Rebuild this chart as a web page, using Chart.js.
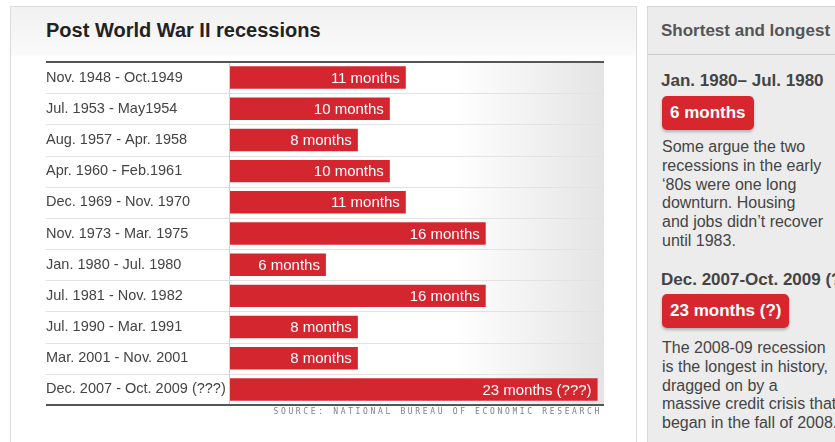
<!DOCTYPE html>
<html>
<head>
<meta charset="utf-8">
<script src="https://cdn.jsdelivr.net/npm/chart.js@4/dist/chart.umd.min.js"></script>
<style>
    body { margin: 0; width: 835px; height: 442px; overflow: hidden; background: #fff; font-family: "Liberation Sans", Arial, sans-serif; position: relative; }
    #leftPanel { position: absolute; left: 10px; top: 6px; width: 625px; height: 450px; border: 1px solid #dcdcdc; background: linear-gradient(to bottom, #f1f1f1 0, #fafafa 48px, #fff 49px); }
    #title { position: absolute; left: 35px; top: 12px; font-size: 20px; font-weight: bold; color: #222; }
    #chartBox { position: absolute; left: 46px; top: 52px; width: 560px; height: 363px; }
    #source { position: absolute; left: 230px; width: 372px; top: 407px; text-align: right; font-size: 8px; letter-spacing: 2.65px; color: #808080; font-family: "DejaVu Sans Mono", monospace; }
    #rightPanel { position: absolute; left: 647px; top: 6px; width: 220px; height: 450px; border: 1px solid #d6d6d6; background: #ececec; color: #444; }
    #rightHead { height: 48px; border-bottom: 1px solid #c8c8c8; font-size: 17px; font-weight: bold; color: #555; padding: 14px 0 0 13px; box-sizing: border-box; }
    .range { position: absolute; left: 13px; font-size: 17px; font-weight: bold; color: #444; white-space: nowrap; }
    .badge { position: absolute; left: 14px; background: #d8262f; color: #fff; font-weight: bold; font-size: 17px; border-radius: 5px; padding: 0 8px; height: 34px; line-height: 34px; box-shadow: 0 2px 3px rgba(0,0,0,0.25); white-space: nowrap; }
    .note { position: absolute; left: 14px; font-size: 16px; line-height: 18.8px; color: #444; white-space: nowrap; }
</style>
</head>
<body>
<div id="leftPanel">
    <div id="title">Post World War II recessions</div>
</div>
<div id="chartBox"><canvas id="recessionChart"></canvas></div>
<div id="source">SOURCE: NATIONAL BUREAU OF ECONOMIC RESEARCH</div>

<div id="rightPanel">
    <div id="rightHead">Shortest and longest</div>
    <div class="range" style="top: 64px;">Jan. 1980– Jul. 1980</div>
    <div class="badge" style="top: 89px;">6 months</div>
    <div class="note" style="top: 131px;">Some argue the two<br>recessions in the early<br>‘80s were one long<br>downturn. Housing<br>and jobs didn’t recover<br>until 1983.</div>
    <div class="range" style="top: 263px;">Dec. 2007-Oct. 2009 (?)</div>
    <div class="badge" style="top: 287px;">23 months (?)</div>
    <div class="note" style="top: 332px;">The 2008-09 recession<br>is the longest in history,<br>dragged on by a<br>massive credit crisis that<br>began in the fall of 2008.</div>
</div>

<script>
const periods = [
    "Nov. 1948 - Oct.1949",
    "Jul. 1953 - May1954",
    "Aug. 1957 - Apr. 1958",
    "Apr. 1960 - Feb.1961",
    "Dec. 1969 - Nov. 1970",
    "Nov. 1973 - Mar. 1975",
    "Jan. 1980 - Jul. 1980",
    "Jul. 1981 - Nov. 1982",
    "Jul. 1990 - Mar. 1991",
    "Mar. 2001 - Nov. 2001",
    "Dec. 2007 - Oct. 2009 (???)"
];
const months = [11, 10, 8, 10, 11, 16, 6, 16, 8, 8, 23];
const notes = ["", "", "", "", "", "", "", "", "", "", " (???)"];

// rows, frame lines and right-side fade behind the bars
const rowDecor = {
    id: 'rowDecor',
    beforeDatasetsDraw(chart) {
        const { ctx, chartArea } = chart;
        const y = chart.scales.y;
        const grad = ctx.createLinearGradient(chartArea.left, 0, chartArea.right, 0);
        grad.addColorStop(0, '#ffffff');
        grad.addColorStop(0.6, '#ffffff');
        grad.addColorStop(1, '#e4e4e4');
        ctx.save();
        ctx.fillStyle = grad;
        ctx.fillRect(chartArea.left, chartArea.top, chartArea.right - chartArea.left, chartArea.bottom - chartArea.top);

        const step = (chartArea.bottom - chartArea.top) / periods.length;
        ctx.strokeStyle = '#e2e2e2';
        ctx.lineWidth = 1;
        for (let i = 1; i < periods.length; i++) {
            const py = Math.round(y.getPixelForValue(i) - step / 2) + 0.5;
            ctx.beginPath();
            ctx.moveTo(0, py);
            ctx.lineTo(chartArea.right, py);
            ctx.stroke();
        }
        ctx.strokeStyle = '#cfcfcf';
        ctx.beginPath();
        ctx.moveTo(chartArea.left - 0.5, chartArea.top);
        ctx.lineTo(chartArea.left - 0.5, chartArea.bottom);
        ctx.stroke();

        ctx.strokeStyle = '#555';
        ctx.lineWidth = 2;
        ctx.beginPath();
        ctx.moveTo(0, chartArea.top);
        ctx.lineTo(chartArea.right, chartArea.top);
        ctx.moveTo(0, chartArea.bottom);
        ctx.lineTo(chartArea.right, chartArea.bottom);
        ctx.stroke();
        ctx.restore();
    }
};

const barText = {
    id: 'barText',
    afterDatasetsDraw(chart) {
        const { ctx } = chart;
        const meta = chart.getDatasetMeta(0);
        ctx.save();
        ctx.fillStyle = '#fff';
        ctx.font = '15px "Liberation Sans", Arial, sans-serif';
        ctx.textAlign = 'right';
        ctx.textBaseline = 'middle';
        meta.data.forEach((bar, i) => {
            ctx.fillText(months[i] + ' months' + notes[i], bar.x - 6, bar.y + 1);
        });
        ctx.restore();
    }
};

new Chart(document.getElementById('recessionChart'), {
    type: 'bar',
    data: {
        labels: periods,
        datasets: [{
            data: months,
            backgroundColor: '#d4262f',
            borderWidth: 0,
            barPercentage: 0.72,
            categoryPercentage: 1
        }]
    },
    options: {
        indexAxis: 'y',
        responsive: true,
        maintainAspectRatio: false,
        animation: false,
        layout: { padding: { top: 10, bottom: 10, right: 2, left: 0 } },
        plugins: { legend: { display: false }, tooltip: { enabled: false } },
        scales: {
            x: { display: false, min: 0, max: 23.4 },
            y: {
                grid: { display: false },
                border: { display: false },
                ticks: {
                    crossAlign: 'far',
                    color: '#444',
                    padding: 0,
                    font: { family: '"Liberation Sans", Arial, sans-serif', size: 14.5 }
                },
                afterFit(scale) { scale.width = 184; }
            }
        }
    },
    plugins: [rowDecor, barText]
});
</script>
</body>
</html>
